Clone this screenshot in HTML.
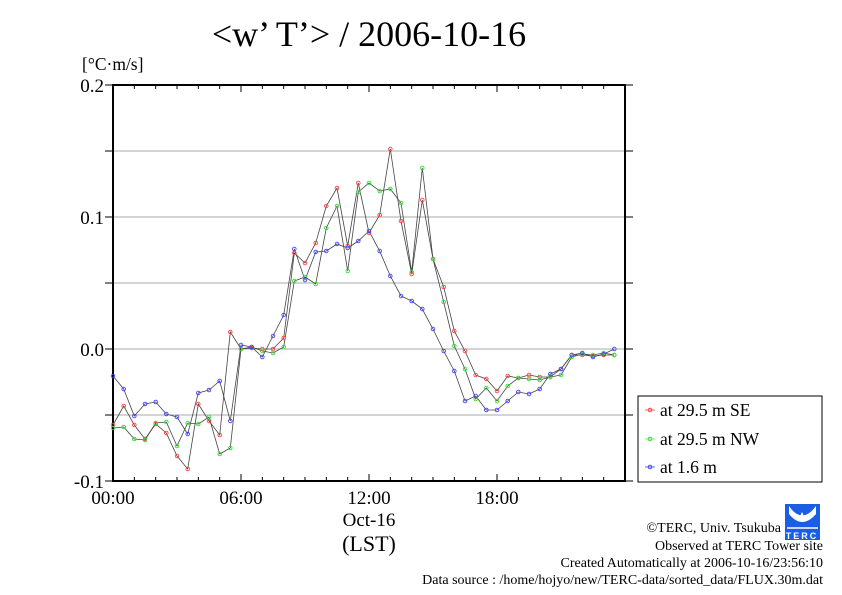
<!DOCTYPE html>
<html><head><meta charset="utf-8"><style>
html,body{margin:0;padding:0;background:#fff;}
svg{display:block;font-family:"Liberation Serif",serif;}
</style></head><body>
<svg id="s" width="842" height="595" xmlns="http://www.w3.org/2000/svg">
<rect width="842" height="595" fill="#fff"/>
<text x="369" y="46" font-size="36" text-anchor="middle">&lt;w’ T’&gt; / 2006-10-16</text>
<text x="82" y="70" font-size="17.5">[°C·m/s]</text>
<g stroke="#aaa" stroke-width="1">
<line x1="113" x2="625" y1="151" y2="151"/><line x1="113" x2="625" y1="217" y2="217"/>
<line x1="113" x2="625" y1="283" y2="283"/><line x1="113" x2="625" y1="349" y2="349"/>
<line x1="113" x2="625" y1="415" y2="415"/>
</g>
<g id="ticks" stroke="#000" stroke-width="1"></g>
<rect x="113" y="85" width="512" height="396" fill="none" stroke="#000" stroke-width="2"/>
<g font-size="19" text-anchor="end">
<text x="104" y="92">0.2</text><text x="104" y="224">0.1</text>
<text x="104" y="356">0.0</text><text x="104" y="488">-0.1</text>
</g>
<g font-size="19" text-anchor="middle">
<text x="113" y="504">00:00</text><text x="241" y="504">06:00</text>
<text x="369" y="504">12:00</text><text x="497" y="504">18:00</text>
<text x="369" y="526">Oct-16</text>
<text x="369" y="551" font-size="22">(LST)</text>
</g>
<g id="data"></g>
<rect x="638" y="396" width="184" height="86" fill="#fff" stroke="#000" stroke-width="1"/>
<g font-size="17.5">
<text x="660" y="416">at 29.5 m SE</text>
<text x="660" y="445">at 29.5 m NW</text>
<text x="660" y="473">at 1.6 m</text>
</g>
<g stroke-width="1">
<line x1="645" x2="655" y1="410" y2="410" stroke="#f66"/><circle cx="650" cy="410" r="1.8" fill="none" stroke="#f44"/>
<line x1="645" x2="655" y1="439" y2="439" stroke="#6f6"/><circle cx="650" cy="439" r="1.8" fill="none" stroke="#3d3"/>
<line x1="645" x2="655" y1="467" y2="467" stroke="#66f"/><circle cx="650" cy="467" r="1.8" fill="none" stroke="#44f"/>
</g>
<g>
<rect x="785" y="504" width="35" height="36" fill="#1a5ee6"/>
<path d="M789 506 Q802 525 816 506 L816 514 Q802 530 789 514Z" fill="#fff"/>
<path d="M802 512 q-4 7 0 8 q4 -1 0 -8z" fill="#fff"/>
<line x1="787" y1="528" x2="818" y2="528" stroke="#fff" stroke-width="1.5"/>
<text x="802" y="539" font-size="9" font-family="Liberation Sans,sans-serif" font-weight="bold" fill="#fff" text-anchor="middle" letter-spacing="2">TERC</text>
</g>
<g font-size="14" text-anchor="end">
<text x="781" y="532">©TERC, Univ. Tsukuba</text>
<text x="823" y="550">Observed at TERC Tower site</text>
<text x="823" y="567">Created Automatically at 2006-10-16/23:56:10</text>
<text x="823" y="584">Data source : /home/hojyo/new/TERC-data/sorted_data/FLUX.30m.dat</text>
</g>
</svg>
<script>
var t=document.getElementById("ticks"),s="";
for(var h=1;h<24;h++){var x=113+h*21.333;var L=(h%6==0)?7:4;s+='<line x1="'+x+'" x2="'+x+'" y1="85" y2="'+(85+L)+'"/><line x1="'+x+'" x2="'+x+'" y1="481" y2="'+(481-L)+'"/>';}
for(var y=85;y<=481;y+=66){s+='<line x1="105" x2="113" y1="'+y+'" y2="'+y+'"/><line x1="625" x2="633" y1="'+y+'" y2="'+y+'"/>';}
t.innerHTML=s;
var R=[425,406,425,439,424,433,456,469,404,421,435,332,349,348,349,349,338,253,263,243,206,188,246,183,233,215,149,221,274,200,259,287,331,351,375,379,391,376,378,375,377,377,369,355,355,356,355,355];
var G=[428,427,439,440,423,422,446,423,424,417,454,448,349,347,351,353,347,281,277,284,228,206,271,192,183,191,189,203,272,168,259,302,346,369,399,388,401,386,378,379,380,377,375,357,354,355,353,355];
var B=[376,389,416,404,402,414,417,434,393,390,381,421,345,347,357,336,315,249,280,252,251,244,248,241,231,251,276,296,301,309,329,351,371,401,396,410,410,401,392,394,389,374,369,355,353,357,354,349];
var d="";
[[R,"#f44"],[G,"#3d3"],[B,"#44f"]].forEach(function(a){
 var p=a[0].map(function(v,i){return (113+i*10.667).toFixed(1)+","+v;}).join(" ");
 d+='<polyline points="'+p+'" fill="none" stroke="#444" stroke-width="0.8"/>';
});
[[R,"#f44"],[G,"#3d3"],[B,"#44f"]].forEach(function(a){
 a[0].forEach(function(v,i){d+='<circle cx="'+(113+i*10.667).toFixed(1)+'" cy="'+v+'" r="1.8" fill="none" stroke="'+a[1]+'" stroke-width="0.9"/>';});
});
document.getElementById("data").innerHTML=d;
</script>
</body></html>
